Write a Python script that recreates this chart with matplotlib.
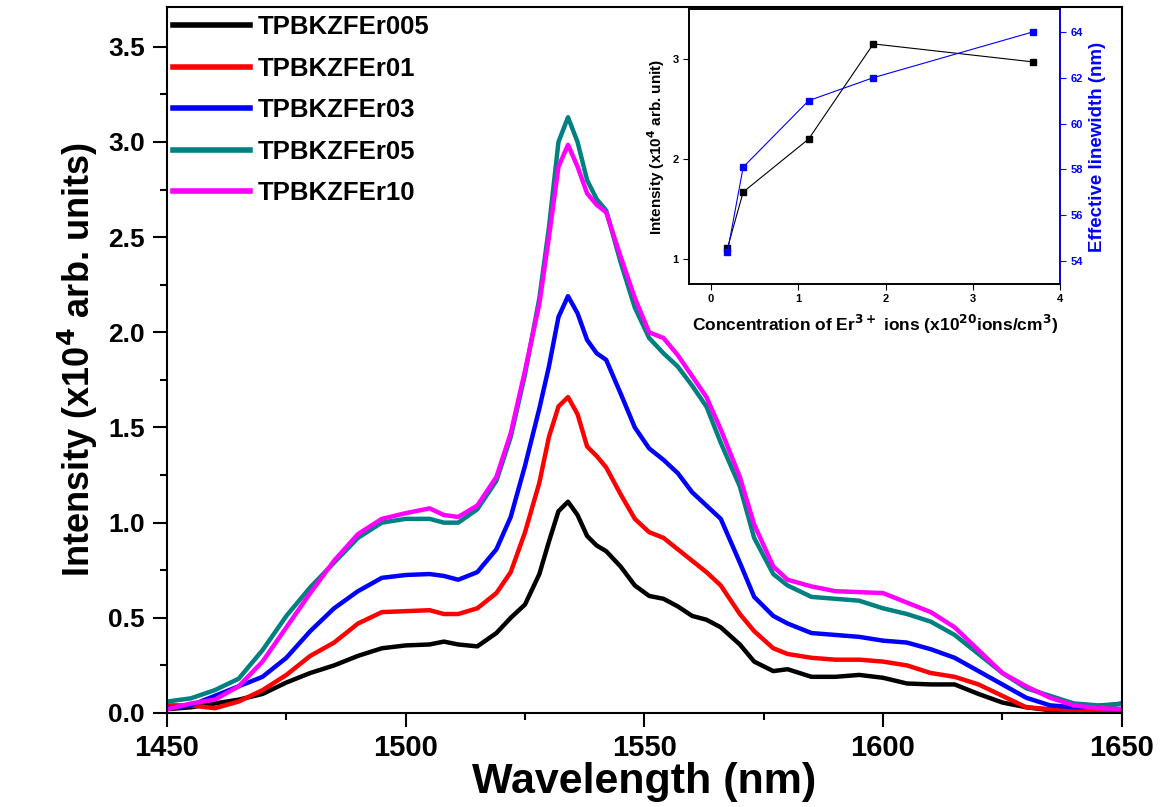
import numpy as np
import matplotlib
matplotlib.use('Agg')
import matplotlib.pyplot as plt
from matplotlib.ticker import MultipleLocator, FormatStrFormatter

plt.rcParams['font.family'] = ['Liberation Sans', 'DejaVu Sans']
plt.rcParams['font.weight'] = 'bold'

## emission spectra (x10^4 arb. units)
wavelength = [1450, 1455, 1460, 1465, 1470, 1475, 1480, 1485, 1490, 1495,
              1500, 1505, 1508, 1511, 1515, 1519, 1522, 1525, 1528, 1530,
              1532, 1534, 1536, 1538, 1540, 1542, 1545, 1548, 1551, 1554,
              1557, 1560, 1563, 1566, 1570, 1573, 1577, 1580, 1585, 1590,
              1595, 1600, 1605, 1610, 1615, 1620, 1625, 1630, 1635, 1640,
              1645, 1650]

er005 = [0.02, 0.03, 0.05, 0.07, 0.10, 0.16, 0.21, 0.25, 0.30, 0.34,
         0.355, 0.36, 0.375, 0.36, 0.35, 0.42, 0.50, 0.57, 0.73, 0.90,
         1.06, 1.11, 1.04, 0.93, 0.88, 0.85, 0.77, 0.67, 0.615, 0.60,
         0.56, 0.51, 0.49, 0.45, 0.36, 0.27, 0.22, 0.23, 0.19, 0.19,
         0.20, 0.185, 0.155, 0.15, 0.15, 0.10, 0.055, 0.03, 0.015, 0.01,
         0.01, 0.02]

er01 = [0.04, 0.04, 0.025, 0.06, 0.12, 0.20, 0.30, 0.37, 0.47, 0.53,
        0.535, 0.54, 0.52, 0.52, 0.55, 0.63, 0.74, 0.95, 1.21, 1.45,
        1.61, 1.66, 1.57, 1.40, 1.35, 1.29, 1.15, 1.02, 0.95, 0.92,
        0.86, 0.80, 0.74, 0.67, 0.52, 0.43, 0.34, 0.31, 0.29, 0.28,
        0.28, 0.27, 0.25, 0.21, 0.19, 0.15, 0.09, 0.03, 0.02, 0.015,
        0.01, 0.01]

er03 = [0.025, 0.04, 0.09, 0.14, 0.19, 0.29, 0.43, 0.55, 0.64, 0.71,
        0.725, 0.73, 0.72, 0.70, 0.74, 0.86, 1.03, 1.30, 1.60, 1.82,
        2.08, 2.19, 2.10, 1.96, 1.89, 1.855, 1.68, 1.50, 1.39, 1.33,
        1.26, 1.16, 1.09, 1.02, 0.79, 0.61, 0.51, 0.47, 0.42, 0.41,
        0.40, 0.38, 0.37, 0.335, 0.29, 0.22, 0.15, 0.08, 0.04, 0.03,
        0.033, 0.05]

er05 = [0.06, 0.077, 0.12, 0.18, 0.33, 0.51, 0.66, 0.79, 0.92, 1.0,
        1.02, 1.02, 1.0, 1.0, 1.07, 1.22, 1.45, 1.78, 2.18, 2.55,
        3.0, 3.13, 3.0, 2.80, 2.70, 2.64, 2.37, 2.13, 1.97, 1.89,
        1.82, 1.72, 1.61, 1.42, 1.19, 0.92, 0.73, 0.67, 0.61, 0.60,
        0.59, 0.55, 0.52, 0.48, 0.41, 0.31, 0.21, 0.13, 0.09, 0.05,
        0.04, 0.047]

er10 = [0.02, 0.05, 0.07, 0.14, 0.27, 0.45, 0.63, 0.80, 0.94, 1.02,
        1.05, 1.075, 1.04, 1.03, 1.09, 1.24, 1.47, 1.80, 2.15, 2.50,
        2.87, 2.985, 2.87, 2.73, 2.67, 2.63, 2.40, 2.18, 2.00, 1.97,
        1.88, 1.77, 1.66, 1.49, 1.24, 0.99, 0.77, 0.70, 0.665, 0.64,
        0.635, 0.63, 0.58, 0.53, 0.45, 0.33, 0.21, 0.14, 0.08, 0.04,
        0.025, 0.02]

names = ['TPBKZFEr005', 'TPBKZFEr01', 'TPBKZFEr03', 'TPBKZFEr05', 'TPBKZFEr10']
colors = ['black', 'red', 'blue', '#008080', 'magenta']

## inset : peak intensity and linewidth vs Er3+ concentration
conc = [0.19, 0.37, 1.12, 1.86, 3.69]
peak_int = [1.11, 1.67, 2.20, 3.15, 2.97]
linewidth = [54.4, 58.1, 61.0, 62.0, 64.0]

fig = plt.figure(figsize=(11.6, 8.07), dpi=100)
ax = fig.add_axes([0.144, 0.1165, 0.823, 0.875])

for y, name, c in zip([er005, er01, er03, er05, er10], names, colors):
    ax.plot(wavelength, y, color=c, lw=3.2, label=name, solid_joinstyle='round')

ax.set_xlim(1450, 1650)
ax.set_ylim(0, 3.71)
ax.xaxis.set_major_locator(MultipleLocator(50))
ax.xaxis.set_minor_locator(MultipleLocator(25))
ax.yaxis.set_major_locator(MultipleLocator(0.5))
ax.yaxis.set_minor_locator(MultipleLocator(0.25))
ax.yaxis.set_major_formatter(FormatStrFormatter('%.1f'))
ax.tick_params(which='major', direction='out', length=10, width=1.5, pad=6)
ax.tick_params(which='minor', direction='out', length=5, width=1.5)
ax.tick_params(axis='x', labelsize=21, pad=5)
ax.tick_params(axis='y', labelsize=19)
for lab in ax.get_xticklabels() + ax.get_yticklabels():
    lab.set_fontweight('bold')
for s in ax.spines.values():
    s.set_linewidth(1.5)

ax.set_xlabel('Wavelength (nm)', fontsize=31, fontweight='bold', labelpad=0)
ax.set_ylabel('Intensity (x10$^{\\mathbf{4}}$ arb. units)', fontsize=26, fontweight='bold', labelpad=6)

leg = ax.legend(loc='upper left', frameon=False, fontsize=18.5, handlelength=3.0,
                borderaxespad=0.2, labelspacing=0.68, handletextpad=0.3,
                bbox_to_anchor=(-0.01, 1.01))
for t in leg.get_texts():
    t.set_fontweight('bold')
for h in leg.legend_handles:
    h.set_linewidth(4)

## inset
axi = fig.add_axes([0.594, 0.648, 0.320, 0.341])
axi.plot(conc, peak_int, color='black', lw=0.8, marker='s', ms=5)
axi.set_xlim(-0.25, 4)
axi.set_ylim(0.75, 3.5)
axi.xaxis.set_major_locator(MultipleLocator(1))
axi.yaxis.set_major_locator(MultipleLocator(1))
axi.tick_params(direction='out', length=4, labelsize=8)
axi.set_xlabel('Concentration of Er$^{\\mathbf{3+}}$ ions (x10$^{\\mathbf{20}}$ions/cm$^{\\mathbf{3}}$)',
               fontsize=12.5, fontweight='bold', labelpad=6)
axi.set_ylabel('Intensity (x10$^{\\mathbf{4}}$ arb. unit)', fontsize=11, fontweight='bold')

axr = axi.twinx()
axr.plot(conc, linewidth, color='blue', lw=0.8, marker='s', ms=5)
axr.set_ylim(53, 65)
axr.yaxis.set_major_locator(MultipleLocator(2))
axr.tick_params(direction='out', length=4, labelsize=8, colors='blue')
axr.set_ylabel('Effective linewidth (nm)', fontsize=13.5, fontweight='bold', color='blue')

for a in (axi, axr):
    for s in a.spines.values():
        s.set_linewidth(1.2)
axr.spines['right'].set_color('blue')
for lab in axi.get_xticklabels() + axi.get_yticklabels() + axr.get_yticklabels():
    lab.set_fontweight('bold')

fig.savefig('out.png', dpi=100)
